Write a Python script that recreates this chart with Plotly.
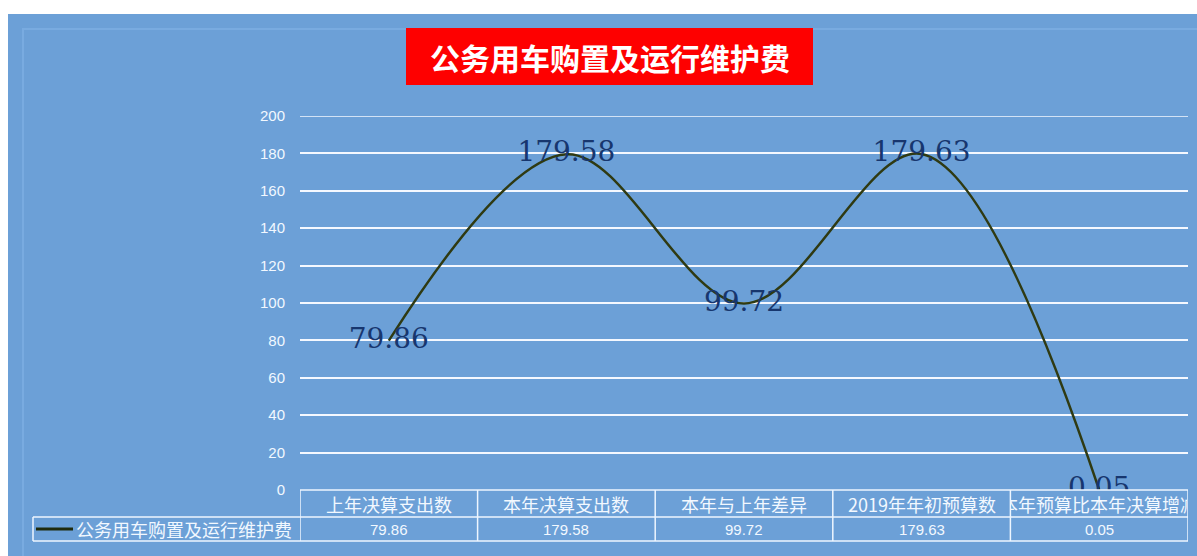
import plotly.graph_objects as go

# ---- data ----
categories = ["上年决算支出数", "本年决算支出数", "本年与上年差异", "2019年年初预算数", "本年预算比本年决算增减"]
values = [79.86, 179.58, 99.72, 179.63, 0.05]
series_name = "公务用车购置及运行维护费"
title_text = "公务用车购置及运行维护费"
y_ticks = [0, 20, 40, 60, 80, 100, 120, 140, 160, 180, 200]

# ---- layout constants ----
W, H = 1197, 556
L, R, T, B = 300, 1188, 116, 490
BG = "#6ca0d7"
LINE = "#2f3a12"
LBL = "#17366e"
GRID = "#f4f8ff"


def px(x):
    return (x - L) / (R - L)


def py(y):
    return (B - y) / (B - T)


labels = [f"{v:.2f}" for v in values]

fig = go.Figure(
    go.Scatter(
        x=categories, y=values, mode="lines+text",
        line=dict(shape="spline", smoothing=1, color=LINE, width=2.5),
        text=labels, textposition="middle center",
        textfont=dict(family="DejaVu Serif", size=28, color=LBL),
        cliponaxis=True, hoverinfo="skip", showlegend=False,
    )
)

shapes = []
# white outer strips (top and left)
shapes.append(dict(type="rect", xref="paper", yref="paper", x0=px(-5), x1=px(W + 5), y0=py(14), y1=py(-5),
                   fillcolor="white", line_width=0, layer="below"))
shapes.append(dict(type="rect", xref="paper", yref="paper", x0=px(-5), x1=px(8), y0=py(H + 5), y1=py(-5),
                   fillcolor="white", line_width=0, layer="below"))
# faint inner border
shapes.append(dict(type="rect", xref="paper", yref="paper", x0=px(23), x1=px(W + 10), y0=py(H + 10), y1=py(29),
                   fillcolor="rgba(0,0,0,0)", line=dict(color="#79abe0", width=2), layer="below"))
# title box
shapes.append(dict(type="rect", xref="paper", yref="paper", x0=px(406), x1=px(813), y0=py(85), y1=py(28),
                   fillcolor="#fe0000", line_width=0))
# top gridline (at the axis edge)
shapes.append(dict(type="line", xref="paper", yref="y", x0=0, x1=1, y0=y_ticks[-1], y1=y_ticks[-1],
                   line=dict(color=GRID, width=1.5), layer="below"))

TL = dict(color="#eef6ff", width=1.5)
# table horizontal lines
shapes.append(dict(type="line", xref="paper", yref="paper", x0=0, x1=1, y0=py(490), y1=py(490), line=TL))
shapes.append(dict(type="line", xref="paper", yref="paper", x0=px(33), x1=1, y0=py(517), y1=py(517), line=TL))
shapes.append(dict(type="line", xref="paper", yref="paper", x0=px(33), x1=1, y0=py(541), y1=py(541), line=TL))
# table vertical lines
for k in range(len(categories) + 1):
    shapes.append(dict(type="line", xref="x", yref="paper", x0=k - 0.5, x1=k - 0.5,
                       y0=py(490), y1=py(541), line=TL))
shapes.append(dict(type="line", xref="paper", yref="paper", x0=px(33), x1=px(33),
                   y0=py(517), y1=py(541), line=TL))
# legend key line
shapes.append(dict(type="line", xref="paper", yref="paper", x0=px(36), x1=px(73),
                   y0=py(529), y1=py(529), line=dict(color="#1f2a0c", width=3)))

annotations = []
annotations.append(dict(xref="paper", yref="paper", x=px(609.5), y=py(57), text=title_text,
                        showarrow=False, xanchor="center", yanchor="middle",
                        font=dict(family="Noto Sans CJK SC", size=30, color="white", weight="bold")))
for i, c in enumerate(categories):
    annotations.append(dict(xref="x", yref="paper", x=i, y=py(503.5), text=c, width=176,
                            showarrow=False, xanchor="center", yanchor="middle",
                            font=dict(family="Noto Sans CJK SC", size=18, color="#f2f8ff")))
    annotations.append(dict(xref="x", yref="paper", x=i, y=py(529), text=labels[i],
                            showarrow=False, xanchor="center", yanchor="middle",
                            font=dict(family="Liberation Sans", size=15, color="#f2f8ff")))
annotations.append(dict(xref="paper", yref="paper", x=px(74), y=py(529), text=series_name,
                        showarrow=False, xanchor="left", yanchor="middle",
                        font=dict(family="Noto Sans CJK SC", size=18, color="#f2f8ff")))

fig.update_layout(
    width=W, height=H,
    margin=dict(l=L, r=W - R, t=T, b=H - B, pad=0),
    paper_bgcolor=BG, plot_bgcolor="rgba(0,0,0,0)",
    shapes=shapes, annotations=annotations,
    xaxis=dict(type="category", range=[-0.5, len(categories) - 0.5], showticklabels=False,
               showgrid=False, zeroline=False, showline=False, fixedrange=True),
    yaxis=dict(range=[0, 200], tickvals=y_ticks, showgrid=True, gridcolor=GRID, gridwidth=1.5,
               zeroline=False, showline=False, ticks="", ticklabelstandoff=14,
               tickfont=dict(family="Liberation Sans", size=15, color="#f2f8ff"), automargin=False),
    showlegend=False,
)

fig.write_html("out.html")
